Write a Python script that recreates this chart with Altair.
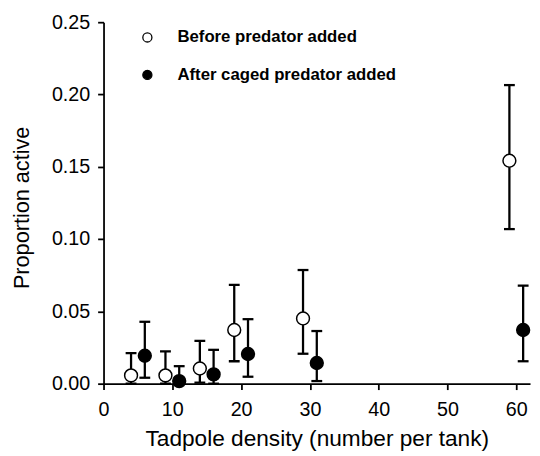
import altair as alt
import pandas as pd

# Data
series_names = ["Before predator added", "After caged predator added"]

before_x = [4, 9, 14, 19, 29, 59]
before_y = [0.0057, 0.0057, 0.0105, 0.0371, 0.0451, 0.1542]
before_hi = [0.0212, 0.0223, 0.0296, 0.0683, 0.0786, 0.2065]
before_lo = [0.0, 0.0, 0.0007, 0.0155, 0.0207, 0.1069]

after_x = [6, 11, 16, 21, 31, 61]
after_y = [0.0193, 0.0018, 0.0064, 0.0205, 0.0143, 0.0371]
after_hi = [0.0428, 0.0121, 0.0234, 0.0446, 0.0364, 0.0678]
after_lo = [0.0041, 0.0, 0.0, 0.0048, 0.0018, 0.0155]

x_ticks = [0, 10, 20, 30, 40, 50, 60]
y_ticks = [0.0, 0.05, 0.10, 0.15, 0.20, 0.25]

rows = []
for name, xs, ys, his, los in [
    (series_names[0], before_x, before_y, before_hi, before_lo),
    (series_names[1], after_x, after_y, after_hi, after_lo),
]:
    for x, y, hi, lo in zip(xs, ys, his, los):
        rows.append({"series": name, "density": x, "prop": y, "hi": hi, "lo": lo})
df = pd.DataFrame(rows)

FONT = "Liberation Sans"

x_enc = alt.X(
    "density:Q",
    scale=alt.Scale(domain=[0, 62], nice=False, zero=False),
    axis=alt.Axis(
        values=x_ticks,
        title="Tadpole density (number per tank)",
        labelPadding=10,
        titleY=62.5,
        titleBaseline="alphabetic",
        titleFontSize=23,
        labelFlush=False,
    ),
)
y_scale = alt.Scale(domain=[0, 0.25], nice=False)

bars = alt.Chart(df).mark_rule(color="black", strokeWidth=2.3).encode(
    x=x_enc,
    y=alt.Y("lo:Q", scale=y_scale),
    y2="hi:Q",
)

cap_hi = alt.Chart(df).mark_tick(
    color="black", orient="horizontal", size=11, thickness=2.3, opacity=1
).encode(x=x_enc, y=alt.Y("hi:Q", scale=y_scale))

cap_lo = alt.Chart(df).mark_tick(
    color="black", orient="horizontal", size=11, thickness=2.3, opacity=1
).encode(x=x_enc, y=alt.Y("lo:Q", scale=y_scale))

points = alt.Chart(df).mark_circle(
    size=170, stroke="black", strokeWidth=1.5, opacity=1
).encode(
    x=x_enc,
    y=alt.Y(
        "prop:Q",
        scale=y_scale,
        axis=alt.Axis(
            values=y_ticks,
            format=".2f",
            title="Proportion active",
            labelPadding=8,
            titleX=-76,
            titleY=188,
            titleBaseline="alphabetic",
            titleFontSize=22,
        ),
    ),
    fill=alt.Fill(
        "series:N",
        scale=alt.Scale(domain=series_names, range=["white", "black"]),
        title=None,
        legend=alt.Legend(
            orient="none",
            legendX=36,
            legendY=7,
            padding=0,
            symbolType="circle",
            symbolSize=85,
            symbolStrokeColor="black",
            symbolStrokeWidth=1.3,
            symbolOpacity=1,
            labelFont=FONT,
            labelFontSize=17,
            labelFontWeight="bold",
            labelColor="black",
            labelOffset=22,
            rowPadding=20,
            labelLimit=400,
        ),
    ),
)

chart = (
    alt.layer(bars, cap_hi, cap_lo, points)
    .properties(
        width=433,
        height=367,
        autosize=alt.AutoSizeParams(type="none"),
        padding={"left": 97, "top": 11, "right": 2, "bottom": 68},
        background="white",
    )
    .configure_view(stroke=None)
    .configure_axis(
        grid=False,
        domainColor="black",
        domainWidth=1.8,
        tickColor="black",
        tickWidth=1.8,
        tickSize=6,
        labelFont=FONT,
        labelFontSize=20,
        labelColor="black",
        titleFont=FONT,
        titleFontWeight="normal",
        titleColor="black",
    )
)

chart.save("out.html", embed_options={"renderer": "svg", "actions": False})
